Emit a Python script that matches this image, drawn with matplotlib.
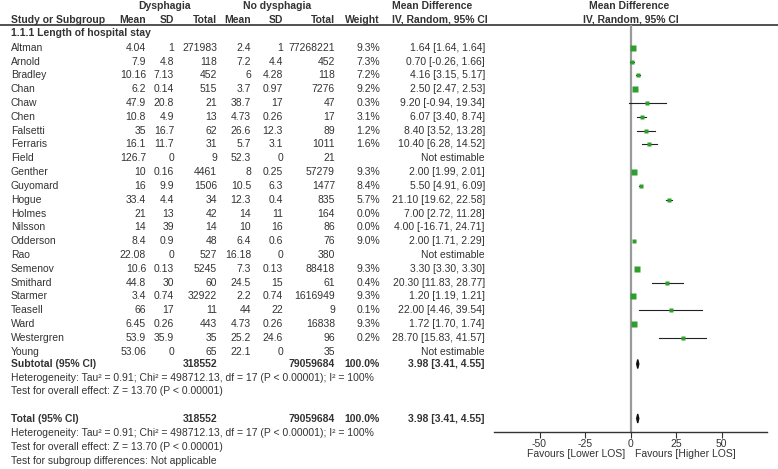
import matplotlib
matplotlib.use("Agg")
import matplotlib.pyplot as plt
from matplotlib.patches import Polygon

plt.rcParams['font.family'] = ['Liberation Sans', 'DejaVu Sans']

# study-level data
studies = ["Altman", "Arnold", "Bradley", "Chan", "Chaw", "Chen", "Falsetti",
           "Ferraris", "Field", "Genther", "Guyomard", "Hogue", "Holmes",
           "Nilsson", "Odderson", "Rao", "Semenov", "Smithard", "Starmer",
           "Teasell", "Ward", "Westergren", "Young"]
dys_mean = [4.04, 7.9, 10.16, 6.2, 47.9, 10.8, 35, 16.1, 126.7, 10, 16, 33.4,
            21, 14, 8.4, 22.08, 10.6, 44.8, 3.4, 66, 6.45, 53.9, 53.06]
dys_sd = [1, 4.8, 7.13, 0.14, 20.8, 4.9, 16.7, 11.7, 0, 0.16, 9.9, 4.4,
          13, 39, 0.9, 0, 0.13, 30, 0.74, 17, 0.26, 35.9, 0]
dys_n = [271983, 118, 452, 515, 21, 13, 62, 31, 9, 4461, 1506, 34, 42, 14,
         48, 527, 5245, 60, 32922, 11, 443, 35, 65]
nod_mean = [2.4, 7.2, 6, 3.7, 38.7, 4.73, 26.6, 5.7, 52.3, 8, 10.5, 12.3, 14,
            10, 6.4, 16.18, 7.3, 24.5, 2.2, 44, 4.73, 25.2, 22.1]
nod_sd = [1, 4.4, 4.28, 0.97, 17, 0.26, 12.3, 3.1, 0, 0.25, 6.3, 0.4, 11, 16,
          0.6, 0, 0.13, 15, 0.74, 22, 0.26, 24.6, 0]
nod_n = [77268221, 452, 118, 7276, 47, 17, 89, 1011, 21, 57279, 1477, 835,
         164, 86, 76, 380, 88418, 61, 1616949, 9, 16838, 96, 35]
weight = [9.3, 7.3, 7.2, 9.2, 0.3, 3.1, 1.2, 1.6, None, 9.3, 8.4, 5.7, 0.0,
          0.0, 9.0, None, 9.3, 0.4, 9.3, 0.1, 9.3, 0.2, None]
md = [1.64, 0.70, 4.16, 2.50, 9.20, 6.07, 8.40, 10.40, None, 2.00, 5.50,
      21.10, 7.00, 4.00, 2.00, None, 3.30, 20.30, 1.20, 22.00, 1.72, 28.70, None]
ci_lo = [1.64, -0.26, 3.15, 2.47, -0.94, 3.40, 3.52, 6.28, None, 1.99, 4.91,
         19.62, 2.72, -16.71, 1.71, None, 3.30, 11.83, 1.19, 4.46, 1.70, 15.83, None]
ci_hi = [1.64, 1.66, 5.17, 2.53, 19.34, 8.74, 13.28, 14.52, None, 2.01, 6.09,
         22.58, 11.28, 24.71, 2.29, None, 3.30, 28.77, 1.21, 39.54, 1.74, 41.57, None]

# pooled results
tot_dys, tot_nod = 318552, 79059684
pooled = (3.98, 3.41, 4.55)
het_txt = ("Heterogeneity: Tau\u00b2 = 0.91; Chi\u00b2 = 498712.13, df = 17 "
           "(P < 0.00001); I\u00b2 = 100%")
z_txt = "Test for overall effect: Z = 13.70 (P < 0.00001)"
sub_txt = "Test for subgroup differences: Not applicable"
ticks = [-50, -25, 0, 25, 50]

W, H = 778, 469
fig = plt.figure(figsize=(W / 100, H / 100), dpi=100)
ax = fig.add_axes([0, 0, 1, 1])
ax.set_xlim(0, W)
ax.set_ylim(H, 0)
ax.axis('off')

TXT = '#333333'
FS = 7.45

def txt(x, y, s, ha='left', bold=False):
    ax.text(x, y, s, ha=ha, va='center', fontsize=FS, color=TXT,
            fontweight='bold' if bold else 'normal')

# column right edges
cols = [146, 174, 217, 251, 283, 335, 380]
heads = ["Mean", "SD", "Total", "Mean", "SD", "Total", "Weight"]

txt(165, 6, "Dysphagia", ha='center', bold=True)
txt(277, 6, "No dysphagia", ha='center', bold=True)
txt(392, 6, "Mean Difference", bold=True)
txt(629, 6, "Mean Difference", ha='center', bold=True)
txt(11, 20, "Study or Subgroup", bold=True)
for x, h in zip(cols, heads):
    txt(x, 20, h, ha='right', bold=True)
txt(392, 20, "IV, Random, 95% CI", bold=True)
txt(631, 20, "IV, Random, 95% CI", ha='center', bold=True)
ax.axhline(25, color='#333333', lw=1.2)

txt(11, 33.5, "1.1.1 Length of hospital stay", bold=True)

y0, step = 47.7, 13.82
row_y = [y0 + step * i for i in range(len(studies))]
for i, name in enumerate(studies):
    y = row_y[i]
    txt(11, y, name)
    vals = [f"{dys_mean[i]:g}", f"{dys_sd[i]:g}", str(dys_n[i]),
            f"{nod_mean[i]:g}", f"{nod_sd[i]:g}", str(nod_n[i]),
            "" if weight[i] is None else f"{weight[i]:.1f}%"]
    for x, v in zip(cols, vals):
        txt(x, y, v, ha='right')
    if md[i] is None:
        txt(485, y, "Not estimable", ha='right')
    else:
        txt(485, y, f"{md[i]:.2f} [{ci_lo[i]:.2f}, {ci_hi[i]:.2f}]", ha='right')

y_sub, y_tot = 364, 418.5
pooled_txt = f"{pooled[0]:.2f} [{pooled[1]:.2f}, {pooled[2]:.2f}]"
for y, lab in [(y_sub, "Subtotal (95% CI)"), (y_tot, "Total (95% CI)")]:
    txt(11, y, lab, bold=True)
    txt(217, y, str(tot_dys), ha='right', bold=True)
    txt(335, y, str(tot_nod), ha='right', bold=True)
    txt(380, y, "100.0%", ha='right', bold=True)
    txt(485, y, pooled_txt, ha='right', bold=True)
txt(11, 378, het_txt)
txt(11, 391, z_txt)
txt(11, 433, het_txt)
txt(11, 447, z_txt)
txt(11, 461, sub_txt)

# forest panel, y in the same pixel rows as the table
top, bot = 25, 431.7
fx = fig.add_axes([494 / W, (H - bot) / H, 273 / W, (bot - top) / H])
fx.set_xlim(-75, 75)
fx.set_ylim(bot, top)
fx.patch.set_alpha(0)
for s in ['top', 'right', 'left']:
    fx.spines[s].set_visible(False)
fx.spines['bottom'].set_color('#333333')
fx.spines['bottom'].set_linewidth(1.0)
fx.set_yticks([])
fx.set_xticks(ticks)
fx.set_xticklabels([str(t) for t in ticks])
fx.tick_params(axis='x', labelsize=FS, colors='#333333', length=4, pad=1.0,
               labelcolor=TXT)
fx.axvline(0, color='#9a9a9a', lw=1.6, zorder=1)

for i in range(len(studies)):
    if md[i] is None or not weight[i]:
        continue
    y = row_y[i]
    fx.plot([ci_lo[i], ci_hi[i]], [y, y], color='#222222', lw=0.8, zorder=2)
    ms = max(2.2, weight[i] ** 0.5 * 1.2)
    fx.plot(md[i], y, marker='s', ms=ms, color='#2e9e2e', mec='none', zorder=3)

for y in [y_sub, y_tot]:
    m, lo, hi = pooled
    fx.add_patch(Polygon([(lo, y), (m, y - 4.5), (hi, y), (m, y + 4.5)],
                         closed=True, color='#111111', zorder=3))

fig.text(625 / W, 1 - 454 / H, "Favours [Lower LOS]", ha='right', va='center',
         fontsize=FS, color=TXT)
fig.text(635 / W, 1 - 454 / H, "Favours [Higher LOS]", ha='left', va='center',
         fontsize=FS, color=TXT)

fig.savefig("out.png", dpi=100)
